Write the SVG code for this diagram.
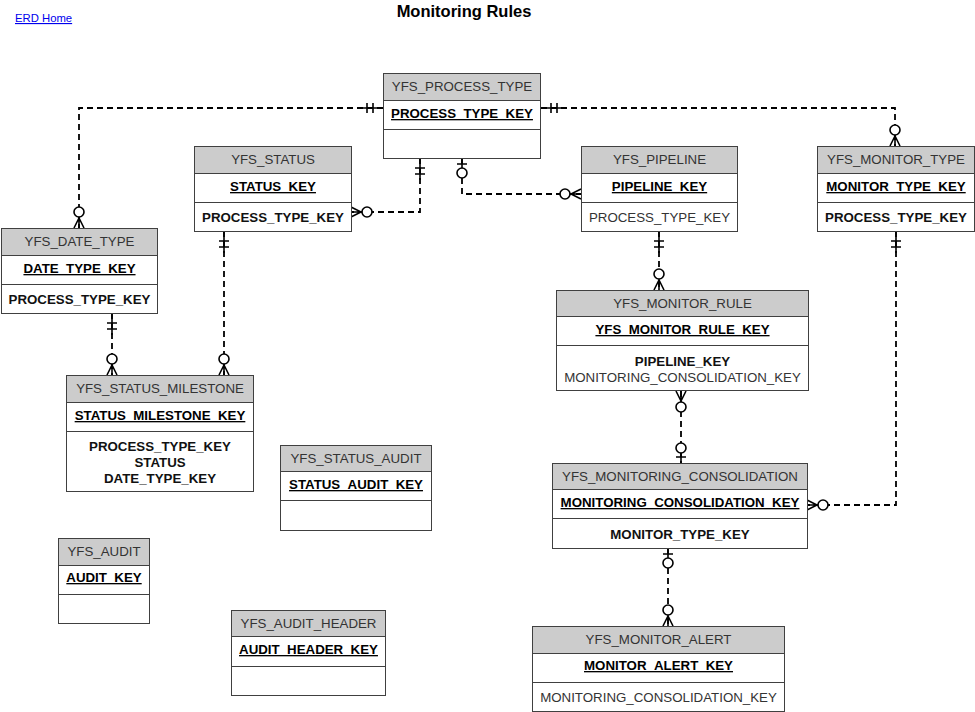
<svg xmlns="http://www.w3.org/2000/svg" xmlns:xlink="http://www.w3.org/1999/xlink" width="975" height="712" viewBox="0 0 975 712">
<style>
.box{fill:#fff;stroke:#404040;stroke-width:1}
.hdr{fill:#cccccc;stroke:#404040;stroke-width:1}
.sep{stroke:#404040;stroke-width:1;fill:none}
text{font-family:"Liberation Sans",Arial,sans-serif;font-size:13.3px;text-anchor:middle}
.h{fill:#333}
.k{font-weight:bold;fill:#000;text-decoration:underline}
.fb{font-weight:bold;fill:#111}
.f{fill:#333}
.con{fill:none;stroke:#000;stroke-width:1.8;stroke-dasharray:6,4}
.title{font-size:16.5px;font-weight:bold;fill:#000}
.link{font-size:11.3px;fill:#0000ee;text-decoration:underline;text-anchor:start}
</style>
<defs>
<g id="zm" fill="#fff" stroke="#000" stroke-width="1.6">
<path d="M0 0V-16M-5 0L0-10L5 0" fill="none"/>
<circle cx="0" cy="-16" r="5"/>
</g>
<g id="oo" fill="none" stroke="#000" stroke-width="1.6">
<path d="M0 0V-22M-5-10H5M-5-16H5"/>
</g>
<g id="zo" fill="#fff" stroke="#000" stroke-width="1.6">
<path d="M0 0V-15M-5-6H5" fill="none"/>
<circle cx="0" cy="-15" r="5"/>
</g>
</defs>
<rect width="975" height="712" fill="#fff"/>
<text x="15" y="22" class="link">ERD Home</text>
<text x="464" y="17" class="title">Monitoring Rules</text>

<g id="connectors">
<path class="con" d="M383 108H79V228"/>
<path class="con" d="M420 158V212H351"/>
<path class="con" d="M462 158V194H581"/>
<path class="con" d="M541 108H895V146"/>
<path class="con" d="M224 231V375"/>
<path class="con" d="M112 313V375"/>
<path class="con" d="M659 231V290"/>
<path class="con" d="M896 231V505H807"/>
<path class="con" d="M681 391V463"/>
<path class="con" d="M668 548V626"/>
<use xlink:href="#oo" transform="translate(383,108) rotate(-90)"/>
<use xlink:href="#zm" transform="translate(79,228)"/>
<use xlink:href="#oo" transform="translate(420,158) rotate(180)"/>
<use xlink:href="#zm" transform="translate(351,212) rotate(90)"/>
<use xlink:href="#zo" transform="translate(462,158) rotate(180)"/>
<use xlink:href="#zm" transform="translate(581,194) rotate(-90)"/>
<use xlink:href="#oo" transform="translate(541,108) rotate(90)"/>
<use xlink:href="#zm" transform="translate(895,146)"/>
<use xlink:href="#oo" transform="translate(224,231) rotate(180)"/>
<use xlink:href="#zm" transform="translate(224,375)"/>
<use xlink:href="#oo" transform="translate(112,313) rotate(180)"/>
<use xlink:href="#zm" transform="translate(112,375)"/>
<use xlink:href="#oo" transform="translate(659,231) rotate(180)"/>
<use xlink:href="#zm" transform="translate(659,290)"/>
<use xlink:href="#oo" transform="translate(896,231) rotate(180)"/>
<use xlink:href="#zm" transform="translate(807,505) rotate(90)"/>
<use xlink:href="#zm" transform="translate(681,391) rotate(180)"/>
<use xlink:href="#zo" transform="translate(681,463)"/>
<use xlink:href="#zo" transform="translate(668,548) rotate(180)"/>
<use xlink:href="#zm" transform="translate(668,626)"/>
</g>

<g id="yfs_process_type">
<rect class="box" x="383.5" y="73.5" width="157" height="85"/>
<rect class="hdr" x="383.5" y="73.5" width="157" height="27"/>
<path class="sep" d="M383.5 129.5H540.5"/>
<text x="462" y="91" class="h">YFS_PROCESS_TYPE</text>
<text x="462" y="118" class="k">PROCESS_TYPE_KEY</text>
</g>

<g id="yfs_status">
<rect class="box" x="194.5" y="146.5" width="157" height="85"/>
<rect class="hdr" x="194.5" y="146.5" width="157" height="27"/>
<path class="sep" d="M194.5 202.5H351.5"/>
<text x="273" y="164" class="h">YFS_STATUS</text>
<text x="273" y="191" class="k">STATUS_KEY</text>
<text x="273" y="222" class="fb">PROCESS_TYPE_KEY</text>
</g>

<g id="yfs_pipeline">
<rect class="box" x="581.5" y="146.5" width="156" height="85"/>
<rect class="hdr" x="581.5" y="146.5" width="156" height="27"/>
<path class="sep" d="M581.5 202.5H737.5"/>
<text x="659.5" y="164" class="h">YFS_PIPELINE</text>
<text x="659.5" y="191" class="k">PIPELINE_KEY</text>
<text x="659.5" y="222" class="f">PROCESS_TYPE_KEY</text>
</g>

<g id="yfs_monitor_type">
<rect class="box" x="817.5" y="146.5" width="157" height="85"/>
<rect class="hdr" x="817.5" y="146.5" width="157" height="27"/>
<path class="sep" d="M817.5 202.5H974.5"/>
<text x="896" y="164" class="h">YFS_MONITOR_TYPE</text>
<text x="896" y="191" class="k">MONITOR_TYPE_KEY</text>
<text x="896" y="222" class="fb">PROCESS_TYPE_KEY</text>
</g>

<g id="yfs_date_type">
<rect class="box" x="1.5" y="228.5" width="156" height="85"/>
<rect class="hdr" x="1.5" y="228.5" width="156" height="27"/>
<path class="sep" d="M1.5 284.5H157.5"/>
<text x="79.5" y="246" class="h">YFS_DATE_TYPE</text>
<text x="79.5" y="273" class="k">DATE_TYPE_KEY</text>
<text x="79.5" y="304" class="fb">PROCESS_TYPE_KEY</text>
</g>

<g id="yfs_status_milestone">
<rect class="box" x="66.5" y="375.5" width="187" height="116"/>
<rect class="hdr" x="66.5" y="375.5" width="187" height="27"/>
<path class="sep" d="M66.5 431.5H253.5"/>
<text x="160" y="393" class="h">YFS_STATUS_MILESTONE</text>
<text x="160" y="420" class="k">STATUS_MILESTONE_KEY</text>
<text x="160" y="451" class="fb">PROCESS_TYPE_KEY</text>
<text x="160" y="467" class="fb">STATUS</text>
<text x="160" y="483" class="fb">DATE_TYPE_KEY</text>
</g>

<g id="yfs_monitor_rule">
<rect class="box" x="556.5" y="290.5" width="252" height="100"/>
<rect class="hdr" x="556.5" y="290.5" width="252" height="26"/>
<path class="sep" d="M556.5 345.5H808.5"/>
<text x="682.5" y="308" class="h">YFS_MONITOR_RULE</text>
<text x="682.5" y="334" class="k">YFS_MONITOR_RULE_KEY</text>
<text x="682.5" y="365.5" class="fb">PIPELINE_KEY</text>
<text x="682.5" y="381.5" class="f">MONITORING_CONSOLIDATION_KEY</text>
</g>

<g id="yfs_monitoring_consolidation">
<rect class="box" x="552.5" y="463.5" width="255" height="85"/>
<rect class="hdr" x="552.5" y="463.5" width="255" height="26"/>
<path class="sep" d="M552.5 518.5H807.5"/>
<text x="680" y="481" class="h">YFS_MONITORING_CONSOLIDATION</text>
<text x="680" y="507" class="k">MONITORING_CONSOLIDATION_KEY</text>
<text x="680" y="539" class="fb">MONITOR_TYPE_KEY</text>
</g>

<g id="yfs_monitor_alert">
<rect class="box" x="532.5" y="626.5" width="252" height="85"/>
<rect class="hdr" x="532.5" y="626.5" width="252" height="27"/>
<path class="sep" d="M532.5 682.5H784.5"/>
<text x="658.5" y="644" class="h">YFS_MONITOR_ALERT</text>
<text x="658.5" y="670" class="k">MONITOR_ALERT_KEY</text>
<text x="658.5" y="702" class="f">MONITORING_CONSOLIDATION_KEY</text>
</g>

<g id="yfs_status_audit">
<rect class="box" x="280.5" y="445.5" width="151" height="85"/>
<rect class="hdr" x="280.5" y="445.5" width="151" height="26"/>
<path class="sep" d="M280.5 500.5H431.5"/>
<text x="356" y="463" class="h">YFS_STATUS_AUDIT</text>
<text x="356" y="489" class="k">STATUS_AUDIT_KEY</text>
</g>

<g id="yfs_audit">
<rect class="box" x="58.5" y="538.5" width="91" height="85"/>
<rect class="hdr" x="58.5" y="538.5" width="91" height="27"/>
<path class="sep" d="M58.5 594.5H149.5"/>
<text x="104" y="556" class="h">YFS_AUDIT</text>
<text x="104" y="582" class="k">AUDIT_KEY</text>
</g>

<g id="yfs_audit_header">
<rect class="box" x="231.5" y="610.5" width="154" height="85"/>
<rect class="hdr" x="231.5" y="610.5" width="154" height="26"/>
<path class="sep" d="M231.5 666.5H385.5"/>
<text x="308.5" y="628" class="h">YFS_AUDIT_HEADER</text>
<text x="308.5" y="654" class="k">AUDIT_HEADER_KEY</text>
</g>
</svg>
